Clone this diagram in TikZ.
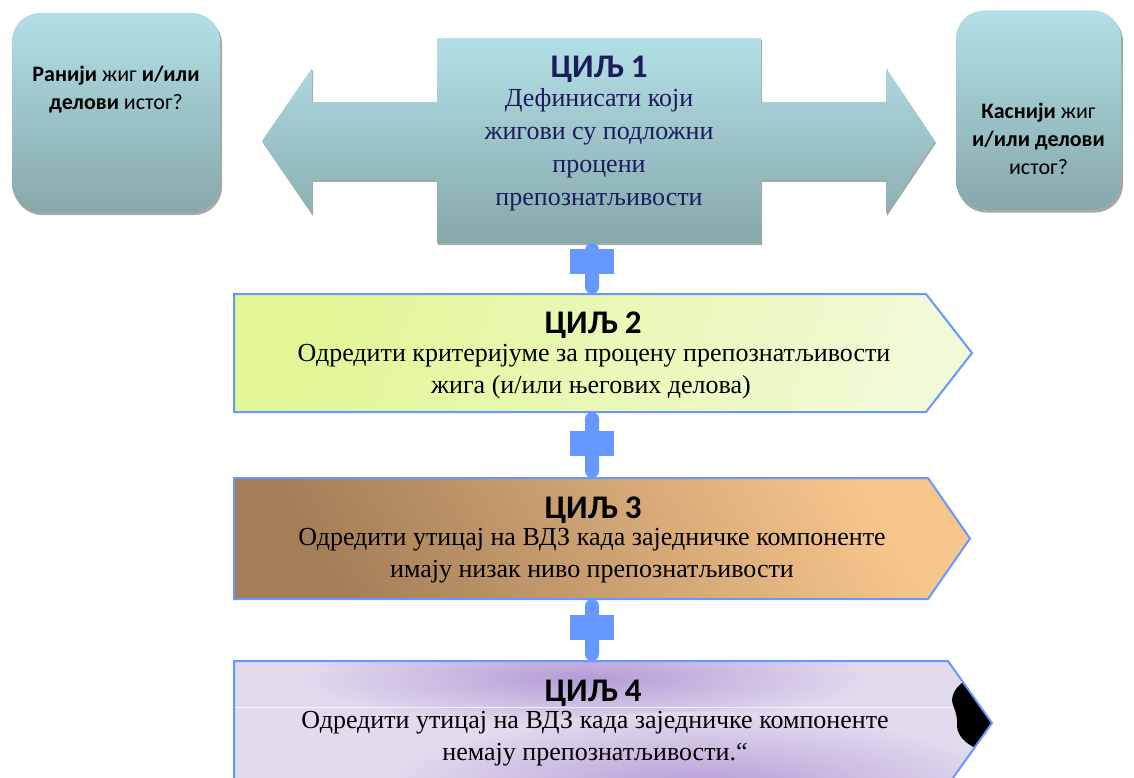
\documentclass[tikz,border=0pt]{standalone}
\usepackage{fontspec}
\setmainfont{Liberation Serif}
\newfontfamily\sidefont{Carlito}
\usetikzlibrary{shadows}
\definecolor{tealtop}{HTML}{B2E0E6}
\definecolor{tealbot}{HTML}{86A8AB}
\definecolor{plusblue}{HTML}{6699FF}
\definecolor{navy}{HTML}{1B1B5E}
\definecolor{ygA}{HTML}{E1F796}
\definecolor{ygB}{HTML}{F1FAD6}
\definecolor{orA}{HTML}{A47E58}
\definecolor{orM}{HTML}{D9A776}
\definecolor{orB}{HTML}{F7C68C}
\definecolor{lvBase}{HTML}{E2DBEE}
\definecolor{lvDeep}{HTML}{B49BD6}
\definecolor{shadowgray}{HTML}{A8A8A8}
\tikzset{
  sidebox/.style={shade, top color=tealtop, bottom color=tealbot, rounded corners=28pt,
    inner sep=0pt, drop shadow={shadow xshift=2pt, shadow yshift=-3pt, fill=shadowgray, opacity=1}},
  sidetext/.style={anchor=base, inner sep=0pt, font=\sidefont\fontsize{22}{26}\selectfont},
  titletext/.style={anchor=base, inner sep=0pt, font=\sidefont\bfseries\fontsize{33}{38}\selectfont},
  bodytext/.style={anchor=base, inner sep=0pt, font=\fontsize{26}{30}\selectfont},
  stem/.style={fill=plusblue, draw=none, minimum width=14pt, inner sep=0pt, rounded corners=7pt},
  crossbar/.style={fill=plusblue, draw=none, minimum width=44pt, minimum height=25pt, inner sep=0pt},
  goalbox/.style={draw=plusblue, line width=2pt, line join=miter},
}
\begin{document}
\begin{tikzpicture}[x=1pt,y=1pt]
\useasboundingbox (0,0) rectangle (1134,-778);
\begin{scope}
\clip (0,0) rectangle (1134,-778);

% side boxes
\node[sidebox, minimum width=208pt, minimum height=199pt] (earlier) at (116,-112.5) {};
\node[sidebox, minimum width=165pt, minimum height=199pt] (later) at (1038.5,-110) {};

% central double arrow
\fill[shadowgray] (263,-143) -- (313,-70) -- (313,-104) -- (438,-104) -- (438,-40) -- (762,-40) -- (762,-104) -- (887,-104) -- (887,-70) -- (936,-143) -- (887,-216) -- (887,-182) -- (762,-182) -- (762,-245) -- (438,-245) -- (438,-182) -- (313,-182) -- (313,-216) -- cycle;
\shade[top color=tealtop, bottom color=tealbot] (262,-141) -- (312,-68) -- (312,-102) -- (437,-102) -- (437,-38) -- (761,-38) -- (761,-102) -- (886,-102) -- (886,-68) -- (935,-141) -- (886,-214) -- (886,-180) -- (761,-180) -- (761,-243) -- (437,-243) -- (437,-180) -- (312,-180) -- (312,-214) -- cycle;
\coordinate (g1) at (599,-141);

% plus connectors
\node[stem, minimum height=51pt] (p1s) at (592,-268.5) {};
\node[crossbar] (p1b) at (592,-261) {};
\node[stem, minimum height=66pt] (p2s) at (592,-445) {};
\node[crossbar] (p2b) at (592,-443) {};
\node[stem, minimum height=62pt] (p3s) at (592,-630) {};
\node[crossbar] (p3b) at (592,-627) {};

% goal 2
\shade[left color=ygA, right color=ygB, shading angle=70] (234,-294) -- (926,-294) -- (972,-353) -- (926,-412) -- (234,-412) -- cycle;
\draw[goalbox] (234,-294) -- (926,-294) -- (972,-353) -- (926,-412) -- (234,-412) -- cycle;
% goal 3
\shade[left color=orA, middle color=orM, right color=orB, shading angle=120] (234,-478) -- (928,-478) -- (970,-538.5) -- (928,-599) -- (234,-599) -- cycle;
\draw[goalbox] (234,-478) -- (928,-478) -- (970,-538.5) -- (928,-599) -- (234,-599) -- cycle;
% goal 4
\begin{scope}
\clip (234,-661) -- (948,-661) -- (992,-723) -- (948,-785) -- (234,-785) -- cycle;
\fill[lvBase] (234,-661) rectangle (992,-785);
\shade[inner color=lvDeep, outer color=lvBase] (585,-678) ellipse (290 and 48);
\shade[inner color=lvDeep, outer color=lvBase] (700,-792) ellipse (320 and 80);
\draw[white, opacity=0.7, line width=1pt] (234,-707) -- (992,-707);
\fill[black] (963,-682) .. controls (955,-688) and (950,-697) .. (953,-705)
  .. controls (956,-712) and (958,-720) .. (957,-727)
  .. controls (958,-736) and (966,-744) .. (976,-748)
  -- (1000,-748) -- (1000,-682) -- cycle;
\end{scope}
\draw[goalbox] (234,-785) -- (234,-661) -- (948,-661) -- (992,-723) -- (948,-785);
\end{scope}

% texts of side boxes
\node[sidetext] (e1) at (116,-82) {\textbf{Ранији} жиг \textbf{и/или}};
\node[sidetext] (e2) at (116,-110) {\textbf{делови} истог?};
\node[sidetext] (l1) at (1038.5,-119) {\textbf{Каснији} жиг};
\node[sidetext] (l2) at (1038.5,-147) {\textbf{и/или делови}};
\node[sidetext] (l3) at (1038.5,-175) {истог?};

% goal 1 texts
\node[titletext, text=navy] (t1) at (599,-78) {ЦИЉ 1};
\node[bodytext, text=navy] (t1a) at (599,-107) {Дефинисати који};
\node[bodytext, text=navy] (t1b) at (599,-140) {жигови су подложни};
\node[bodytext, text=navy] (t1c) at (599,-173) {процени};
\node[bodytext, text=navy] (t1d) at (599,-205) {препознатљивости};

% goal 2 texts
\node[titletext] (t2) at (593,-333) {ЦИЉ 2};
\node[bodytext] (t2a) at (594,-361) {Одредити критеријуме за процену препознатљивости};
\node[bodytext] (t2b) at (591,-393) {жига (и/или његових делова)};

% goal 3 texts
\node[titletext] (t3) at (593,-518) {ЦИЉ 3};
\node[bodytext] (t3a) at (592,-545) {Одредити утицај на ВДЗ када заједничке компоненте};
\node[bodytext] (t3b) at (592,-577) {имају низак ниво препознатљивости};

% goal 4 texts
\node[titletext] (t4) at (593,-701) {ЦИЉ 4};
\node[bodytext] (t4a) at (595,-728) {Одредити утицај на ВДЗ када заједничке компоненте};
\node[bodytext] (t4b) at (595,-760) {немају препознатљивости.“};
\end{tikzpicture}
\end{document}
